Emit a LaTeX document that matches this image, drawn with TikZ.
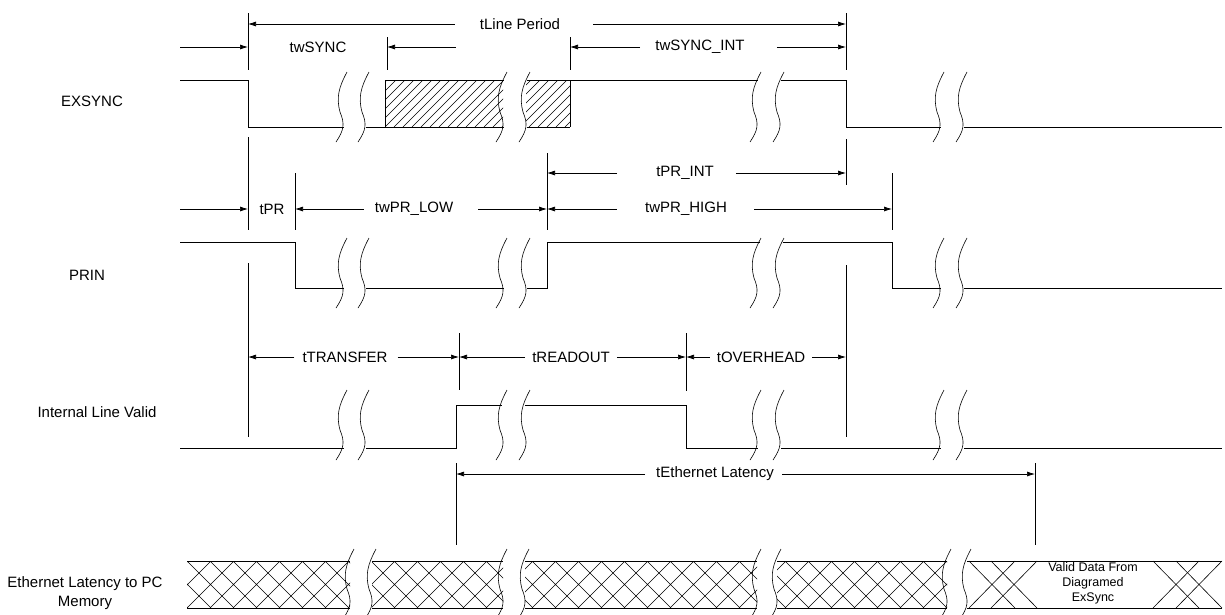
\documentclass[tikz,border=0pt]{standalone}
\usepackage{fontspec}
\setmainfont{Liberation Sans}
\usetikzlibrary{arrows.meta}
% break mark: x at the middle, y of its top
\newcommand{\sigbreak}[2]{%
  \draw[brk] ({#1+6},#2) .. controls ({#1-2},{#2+15}) and ({#1-5},{#2+25}) .. ({#1-1},{#2+40})
    .. controls ({#1+4},{#2+52}) and ({#1+3},{#2+58}) .. ({#1-5},{#2+70});}
\begin{document}
\begin{tikzpicture}[x=1pt,y=-1pt,
  sig/.style={line width=0.9pt},
  ext/.style={line width=0.7pt},
  brk/.style={line width=0.6pt},
  hatch/.style={line width=0.6pt},
  dim/.style={line width=0.7pt,-{Latex[length=8pt,width=5pt]}},
  lbl/.style={font=\fontsize{15}{19}\selectfont,inner sep=0pt,align=center}]
\useasboundingbox (0,0) rectangle (1225,614);
% signal names
\node[lbl] (exsync) at (92,101) {EXSYNC};
\node[lbl] (prin) at (87,275) {PRIN};
\node[lbl] (ilv) at (97,412) {Internal Line Valid};
\node[lbl] (eth) at (85,593) {Ethernet Latency to PC\\Memory};
% extension lines
\coordinate (x0) at (180,0);
\coordinate (xa) at (248,0);
\coordinate (xb) at (387,0);
\coordinate (xc) at (570,0);
\coordinate (xd) at (846,0);
\coordinate (xe) at (295,0);
\coordinate (xf) at (547,0);
\coordinate (xg) at (892,0);
\coordinate (xh) at (459,0);
\coordinate (xi) at (686,0);
\coordinate (xj) at (456,0);
\coordinate (xk) at (1035,0);
\draw[ext] (248,13) -- (248,70) (248,137) -- (248,230) (248,263) -- (248,437);
\draw[ext] (387,37) -- (387,70);
\draw[ext] (570,37) -- (570,70);
\draw[ext] (846,13) -- (846,70) (846,139) -- (846,185) (846,265) -- (846,437);
\draw[ext] (295,173) -- (295,230);
\draw[ext] (547,153) -- (547,230);
\draw[ext] (892,173) -- (892,230);
\draw[ext] (459,333) -- (459,390);
\draw[ext] (686,333) -- (686,391);
\draw[ext] (456,463) -- (456,545);
\draw[ext] (1035,463) -- (1035,545);
% EXSYNC
\draw[sig] (180,80) -- (248,80) -- (248,127) -- (344,127);
\draw[sig] (366,127) -- (504,127);
\draw[sig] (527,127) -- (570,127);
\draw[sig] (385,127) -- (385,80) -- (504,80);
\draw[sig] (527,80) -- (758,80);
\draw[sig] (570,80) -- (570,127);
\draw[sig] (781,80) -- (846,80) -- (846,127) -- (941,127);
\draw[sig] (964,127) -- (1222,127);
\begin{scope}
  \clip (385,80) rectangle (503,127) (526,80) rectangle (570,127);
  \foreach \h in {340,349,...,580} \draw[hatch] (\h,127) -- ++(47,-47);
\end{scope}
\foreach \bx in {341,363,501,524,755,778,938,961} \sigbreak{\bx}{72};
% PRIN
\draw[sig] (180,242) -- (295,242) -- (295,288) -- (344,288);
\draw[sig] (366,288) -- (504,288);
\draw[sig] (527,288) -- (547,288) -- (547,242) -- (760,242);
\draw[sig] (783,242) -- (892,242) -- (892,288) -- (941,288);
\draw[sig] (964,288) -- (1222,288);
\foreach \bx in {341,363,501,524,755,778,938,961} \sigbreak{\bx}{238};
% Internal Line Valid
\draw[sig] (180,448) -- (344,448);
\draw[sig] (366,448) -- (456,448) -- (456,405) -- (502,405);
\draw[sig] (525,405) -- (686,405) -- (686,448) -- (758,448);
\draw[sig] (781,448) -- (941,448);
\draw[sig] (964,448) -- (1222,448);
\foreach \bx in {341,363,501,524,755,778,938,961} \sigbreak{\bx}{390};
% Ethernet latency bus
\foreach \a/\b in {187/350,372/503,525/757,777/947} {
  \draw[sig] (\a,561) -- (\b,561) (\a,608) -- (\b,608);
  \begin{scope}
    \clip (\a,561) rectangle (\b,608);
    \foreach \k in {118,141,...,1000} \draw[hatch] (\k,561) -- ++(47,47) (\k,608) -- ++(47,-47);
  \end{scope}
}
\draw[sig] (967,561) -- (1222,561) (967,608) -- (1222,608);
\foreach \c in {992,1014,1176,1199} \draw[hatch] ({\c-23},561) -- ({\c+23},608) ({\c+23},561) -- ({\c-23},608);
\node[lbl,font=\fontsize{12.5}{15}\selectfont] (vdata) at (1093,583) {Valid Data From\\Diagramed\\ExSync};
\foreach \bx in {348,370,501,523,755,775,945,965} \sigbreak{\bx}{549};
% timing labels
\node[lbl] (tline) at (520,24) {tLine Period};
\draw[dim] ([xshift=-25pt]tline.west) -- (tline.west -| xa);
\draw[dim] ([xshift=33pt]tline.east) -- (tline.east -| xd);
\node[lbl] (twsync) at (318,47) {twSYNC};
\draw[dim] (twsync.west -| x0) -- (twsync.west -| xa);
\draw[dim] ([xshift=109pt]twsync.east) -- (twsync.east -| xb);
\node[lbl] (twint) at (700,47) {twSYNC\_INT};
\draw[dim] ([xshift=-15pt]twint.west) -- (twint.west -| xc);
\draw[dim] ([xshift=32pt]twint.east) -- (twint.east -| xd);
\node[lbl] (tprint) at (685,173) {tPR\_INT};
\draw[dim] ([xshift=-39pt]tprint.west) -- (tprint.west -| xf);
\draw[dim] ([xshift=22pt]tprint.east) -- (tprint.east -| xd);
\node[lbl] (tpr) at (272,209) {tPR};
\draw[dim] (tpr.west -| x0) -- (tpr.west -| xa);
\node[lbl] (twlow) at (414,209) {twPR\_LOW};
\draw[dim] ([xshift=-11pt]twlow.west) -- (twlow.west -| xe);
\draw[dim] ([xshift=25pt]twlow.east) -- (twlow.east -| xf);
\node[lbl] (twhigh) at (686,209) {twPR\_HIGH};
\draw[dim] ([xshift=-28pt]twhigh.west) -- (twhigh.west -| xf);
\draw[dim] ([xshift=27pt]twhigh.east) -- (twhigh.east -| xg);
\node[lbl] (ttrans) at (345,357) {tTRANSFER};
\draw[dim] ([xshift=-8pt]ttrans.west) -- (ttrans.west -| xa);
\draw[dim] ([xshift=10pt]ttrans.east) -- (ttrans.east -| xh);
\node[lbl] (tread) at (571,357) {tREADOUT};
\draw[dim] ([xshift=-7pt]tread.west) -- (tread.west -| xh);
\draw[dim] ([xshift=7pt]tread.east) -- (tread.east -| xi);
\node[lbl] (tover) at (761,357) {tOVERHEAD};
\draw[dim] ([xshift=-7pt]tover.west) -- (tover.west -| xi);
\draw[dim] ([xshift=7pt]tover.east) -- (tover.east -| xd);
\node[lbl] (teth) at (715,474) {tEthernet Latency};
\draw[dim] ([xshift=-11pt]teth.west) -- (teth.west -| xj);
\draw[dim] ([xshift=8pt]teth.east) -- (teth.east -| xk);
\end{tikzpicture}
\end{document}
